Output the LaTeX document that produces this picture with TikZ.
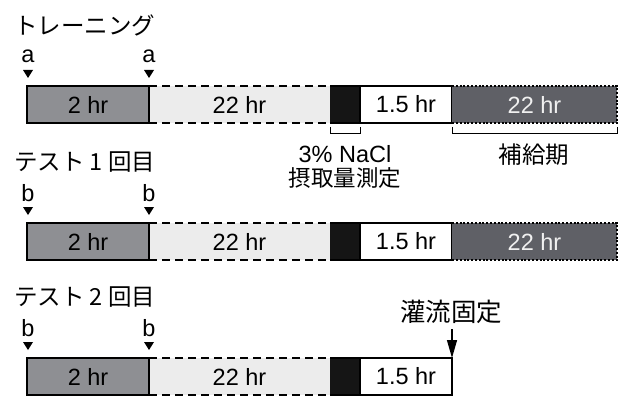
\documentclass[tikz,border=0pt]{standalone}
\usepackage{fontspec}
\setmainfont{Liberation Sans}
\newfontfamily\cjk{Noto Sans CJK JP}
\usetikzlibrary{arrows.meta}
\definecolor{gA}{HTML}{8E8F93}
\definecolor{gB}{HTML}{ECECEC}
\definecolor{gC}{HTML}{151515}
\definecolor{gD}{HTML}{5F6066}
\begin{document}
\begin{tikzpicture}[x=1pt,y=-1pt,
  font=\fontsize{23.5}{28}\selectfont,
  jp/.style={font=\fontsize{23.5}{28}\cjk},
  seg/.style={inner sep=0pt, outer sep=0pt, minimum height=37pt, anchor=north west},
  barline/.style={line width=2pt},
  dashline/.style={line width=2pt, dash pattern=on 8pt off 5pt},
  dotline/.style={line width=2pt, dash pattern=on 2pt off 1.8pt},
  brk/.style={line width=1pt},
  lbl/.style={inner sep=0pt},
  tri/.style={fill=black}]
\useasboundingbox (0,0) rectangle (622,396);
\fill[white] (0,0) rectangle (622,396);

\foreach \i/\y/\t/\l in {1/86/トレーニング/a, 2/223/テスト 1 回目/b, 3/358/テスト 2 回目/b}{
  % title and markers
  \node[lbl, anchor=west, jp] (t\i) at (14,\y-61) {\t};
  \node[lbl] (ma\i) at (28,\y-30) {\l};
  \node[lbl] (mb\i) at (149,\y-30) {\l};
  \fill[tri] (23,\y-16) -- (33,\y-16) -- (28,\y-8) -- cycle;
  \fill[tri] (144,\y-16) -- (154,\y-16) -- (149,\y-8) -- cycle;
  % segments
  \node[seg, fill=gA, minimum width=122pt] (p\i) at (27,\y) {2 hr};
  \node[seg, fill=gB, minimum width=181pt] (q\i) at (149,\y) {22 hr};
  \node[seg, fill=gC, minimum width=30pt] (c\i) at (330,\y) {};
  \node[seg, fill=white, minimum width=92pt] (w\i) at (360,\y) {1.5 hr};
  \draw[barline] (p\i.north west) rectangle (p\i.south east);
  \draw[dashline] (q\i.north west) -- (q\i.north east);
  \draw[dashline] (q\i.south west) -- (q\i.south east);
  \draw[barline] (c\i.north west) -- (c\i.north east);
  \draw[barline] (c\i.south west) -- (c\i.south east);
  \draw[barline] (w\i.north west) rectangle (w\i.south east);
}
% dark recovery segments (rows 1 and 2)
\foreach \i/\y in {1/86, 2/223}{
  \node[seg, fill=gD, minimum width=165pt, text=white!94!black] (d\i) at (452,\y) {22 hr};
  \draw[dotline] (d\i.north west) -- (d\i.north east) -- (d\i.south east) -- (d\i.south west);
}

% brackets (row 1)
\draw[brk] ([yshift=-4pt]c1.south west) -- ([yshift=-11pt]c1.south west) -- ([yshift=-11pt]c1.south east) -- ([yshift=-4pt]c1.south east);
\draw[brk] ([yshift=-4pt]d1.south west) -- ([yshift=-11pt]d1.south west) -- ([yshift=-11pt]d1.south east) -- ([yshift=-4pt]d1.south east);
\node[lbl] (nacl) at (345,154) {3\% NaCl};
\node[lbl, jp, font=\fontsize{22.5}{27}\cjk] (intake) at (345,178) {摂取量測定};
\node[lbl, jp] (supp) at (534,155) {補給期};

% perfusion fixation (row 3)
\node[lbl, font=\fontsize{25.5}{30}\cjk] (perf) at (451,312) {灌流固定};
\draw[line width=1.3pt, -{Triangle[length=18pt, width=10pt]}] (452,329) -- (w3.north east);
\end{tikzpicture}
\end{document}
